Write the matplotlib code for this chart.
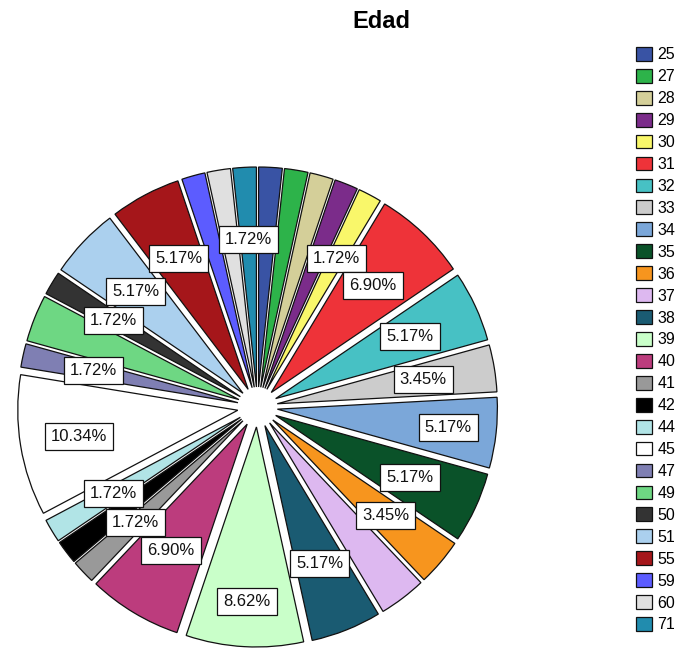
import matplotlib
matplotlib.use("Agg")
import matplotlib.pyplot as plt
import numpy as np

plt.rcParams["font.family"] = ["Liberation Sans", "DejaVu Sans"]

# Frecuencias por edad
edades = ["25", "27", "28", "29", "30", "31", "32", "33", "34", "35", "36", "37", "38",
          "39", "40", "41", "42", "44", "45", "47", "49", "50", "51", "55", "59", "60", "71"]
frecuencias = [1, 1, 1, 1, 1, 4, 3, 2, 3, 3, 2, 2, 3,
               5, 4, 1, 1, 1, 6, 1, 2, 1, 3, 3, 1, 1, 1]
colores = ["#3953A4", "#2DB34A", "#D4CF99", "#7B2C8A", "#F9F76A", "#EE3339", "#47C1C4",
           "#CCCCCC", "#7BA7D9", "#0A5229", "#F7951E", "#DDB8F0", "#1A5B72", "#C9FFC9",
           "#BC3C7D", "#999999", "#000000", "#B1E4E6", "#FFFFFF", "#7F7FB3", "#6ED783",
           "#333333", "#ABD0EE", "#A5161A", "#5C5CFF", "#E0E0E0", "#218CAE"]

# Sectores que llevan etiqueta de porcentaje
etiquetadas = ["30", "31", "32", "33", "34", "35", "36", "38", "39", "40", "41",
               "44", "45", "47", "50", "51", "55", "71"]

# Distancia de cada etiqueta al centro (px); por defecto 168
radio_etiqueta = {"34": 192, "39": 195, "45": 181}

W, H = 683, 653
fig = plt.figure(figsize=(W / 100, H / 100), dpi=100)
ax = fig.add_axes([0, 0, 1, 1])

cx, cy = 257.5, H - 407
radio = 220
separacion = 20

total = sum(frecuencias)
wedges, _ = ax.pie(
    frecuencias,
    colors=colores,
    startangle=90,
    counterclock=False,
    radius=radio,
    center=(cx, cy),
    explode=[separacion] * len(frecuencias),
    wedgeprops=dict(edgecolor="#111111", linewidth=0.9),
    frame=False,
)
ax.set_xlim(0, W)
ax.set_ylim(0, H)
ax.set_aspect("auto")
ax.axis("off")

for w, edad, f in zip(wedges, edades, frecuencias):
    if edad not in etiquetadas:
        continue
    mid = np.deg2rad((w.theta1 + w.theta2) / 2)
    r = radio_etiqueta.get(edad, 168)
    ax.text(cx + r * np.cos(mid), cy + r * np.sin(mid), f"{100 * f / total:.2f}%",
            ha="center", va="center", fontsize=12, color="#111111",
            bbox=dict(boxstyle="square,pad=0.36", fc="white", ec="#111111", lw=0.9))

fig.text(381 / W, 1 - 21 / H, "Edad", ha="center", va="center",
         fontsize=17, fontweight="bold")

ax.legend(wedges, edades, loc="upper left",
          bbox_to_anchor=(636 / W, 1 - 47 / H), bbox_transform=fig.transFigure,
          frameon=False, fontsize=11.5, handlelength=1.0, handleheight=0.95,
          handletextpad=0.35, labelspacing=0.41, borderpad=0, borderaxespad=0)

fig.savefig("out.png", dpi=100)
